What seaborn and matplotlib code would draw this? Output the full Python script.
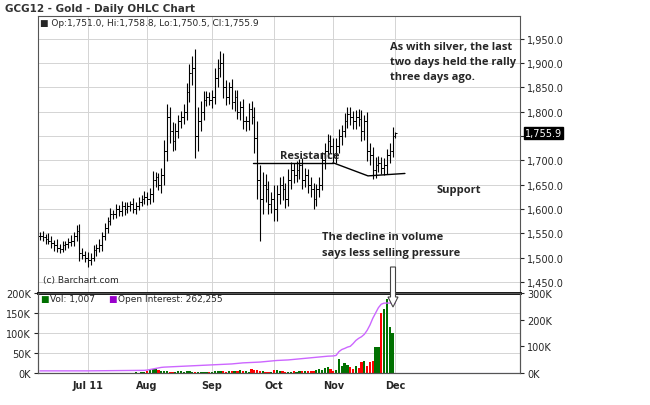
import numpy as np, pandas as pd, matplotlib
matplotlib.use("Agg")
import matplotlib.pyplot as plt
import seaborn as sns

dates = pd.bdate_range("2011-06-08", "2011-12-01")
closes = [1545,1542,1538,1535,1530,1525,1520,1518,1525,1528,1532,1535,1545,1555,1510,1505,1500,
 1495,1500,1515,1520,1525,1545,1560,1575,1590,1590,1600,1595,1605,1600,1605,1610,1600,1605,1615,1620,1625,
 1620,1630,1660,1665,1650,1670,1720,1790,1760,1740,1760,1780,1790,1800,1840,1880,1890,1750,1780,1800,1825,1830,1825,
 1830,1870,1890,1900,1850,1830,1850,1820,1830,1800,1810,1780,1780,1805,1790,1745,1660,1620,1650,1640,1610,1620,
 1600,1630,1650,1640,1620,1660,1680,1670,1680,1690,1660,1670,1650,1640,1620,1640,1650,1700,1720,1740,1730,
 1710,1730,1750,1760,1780,1795,1790,1780,1790,1785,1760,1780,1720,1710,1680,1690,1695,1685,1690,1710,1720,1750,
 1756]
hi_ext = [8,10,6,12,9,7,14,8,10,6,9,11,7,12,15,10,8, 12,9,10,7,14,8,11,9,12,7,10,8,11,9,10,7,12,9,10,8,11,
 10,14,18,12,9,15,22,25,20,18,16,14,12,15,20,18,25,40,30,22,18,12,10,
 15,20,18,25,20,15,12,18,14,15,12,16,12,14,18,20,35,30,25,22,18,15,
 30,20,15,18,14,22,16,14,18,12,15,14,12,16,14,12,15,18,16,14,12,
 15,16,14,12,18,14,15,12,14,16,18,14,20,15,18,16,14,12,15,14,16,18, 3]
lo_ext = [9,7,11,8,10,12,8,9,7,10,8,9,12,10,18,9,10, 15,10,8,11,9,12,8,10,9,11,8,10,9,12,8,10,9,11,8,10,9,
 12,10,15,14,12,18,20,22,25,20,18,15,14,16,18,20,25,45,30,20,18,14,12,
 18,15,20,18,22,16,14,15,18,14,16,15,20,18,16,30,40,85,30,25,20,18,
 25,25,20,22,18,15,20,16,14,18,20,15,18,16,20,14,15,12,18,16,15,
 14,16,15,18,12,14,18,16,15,14,20,18,22,20,18,16,15,14,16,18,15,14, 5]
volume = [500,300,400,600,300,500,400,300,500,700,400,300,600,500,800,400,600,
 700,500,800,600,900,700,500,1000,800,600,1200,900,700,1000,800,1200,900,1500,1100,1300,1500,
 6000,8000,10000,9000,7000,5000,6000,4000,2000,3000,2500,6000,5000,3000,4000,5000,3000,2000,3000,2500,2000,3000,2500,
 2500,4000,6000,5000,4000,3500,4000,5000,6000,4000,7000,5000,4000,3000,9000,8000,7000,5000,4000,3000,2500,3000,
 8000,7000,5000,4000,3000,3500,3000,4000,3000,6000,5000,4000,5000,6000,5000,8000,10000,7000,13000,16000,10000,
 6000,8000,35000,18000,24000,19000,15000,10000,17000,12000,28000,30000,18000,28000,30000,64000,64000,150000,160000,185000,115000,100000,
 1007]
oi = [8000]*17 + [8000,8100,8200,8300,8400,8500,8600,8700,8800,8900,9000,9100,9200,9300,9400,9500,9600,9700,9800,9900,10000] + \
 [11000,13000,15000,17000,19000,21000,22000,22500,23000,23500,24000,24500,25000,25500,26000,26500,27000,27500,28000,28500,29000,29500,30000] + \
 [30500,31000,31500,32000,32500,33000,33500,34000,35000,36000,37000,38000,38500,39000,39500,40000,40500,41000,42000,43000,44000,45000] + \
 [46000,47000,47500,48000,48500,49000,50000,51000,52000,53000,54000,55000,56000,57000,58000,59000,60000,61000,62000,63000,63500] + \
 [64000,66000,80000,88000,92000,97000,100000,110000,122000,130000,136000,145000,160000,180000,205000,225000,245000,258000,262000,262255,262255,262255] + [262255]
opens = [closes[0]] + closes[:-1]

n = len(dates)
x = np.arange(n)
df = pd.DataFrame({"x": x, "open": opens, "close": closes, "volume": volume, "oi": oi})
df["high"] = np.maximum(df.open, df.close) + np.array(hi_ext)
df["low"] = np.minimum(df.open, df.close) - np.array(lo_ext)

sns.set_style("white")
plt.rcParams["font.family"] = ["DejaVu Sans"]
fig = plt.figure(figsize=(6.5, 4.06), dpi=100)
ax = fig.add_axes([38/650, 1-294/406, 482/650, 277/406])
axv = fig.add_axes([38/650, 1-374/406, 482/650, 80/406])
xl = (-0.7, 170.2)
months = ["2011-07-01","2011-08-01","2011-09-01","2011-10-03","2011-11-01","2011-12-01"]
ticks = [dates.get_indexer([pd.Timestamp(m)])[0] for m in months]
labels = ["Jul 11","Aug","Sep","Oct","Nov","Dec"]
gridc = "#d4d4d4"

ax.vlines(df.x, df.low, df.high, color="black", lw=0.8)
ax.hlines(df.open, df.x-0.6, df.x, color="black", lw=0.7)
ax.hlines(df.close, df.x, df.x+0.6, color="black", lw=0.7)
ax.set_xlim(*xl); ax.set_ylim(1427, 1997)
ax.yaxis.tick_right()
yt = np.arange(1450, 1951, 50)
ax.set_yticks(yt)
ax.set_yticklabels(["" if v == 1750 else f"{v:,.1f}" for v in yt], fontsize=7)
ax.set_xticks(ticks); ax.set_xticklabels([])
ax.grid(True, color=gridc, lw=0.7)
ax.tick_params(length=3, pad=2, right=True)
ax.axhspan(0.955, 1, transform=ax.transAxes, color="#e6e6fa", zorder=0)
ax.text(0.005, 0.978, "■ Op:1,751.0, Hi:1,758.8, Lo:1,750.5, Cl:1,755.9", transform=ax.transAxes, fontsize=6.5, va="center")
ax.text(0.01, 0.04, "(c) Barchart.com", transform=ax.transAxes, fontsize=6.5)
ax.text(1.01, 1755.9, "1,755.9", transform=ax.get_yaxis_transform(), fontsize=7, color="white",
        va="center", bbox=dict(boxstyle="square,pad=0.1", fc="black", ec="black"))
ax.plot([75.5, 103.9], [1695, 1695], color="black", lw=1)
ax.plot([103.9, 116.3, 129.4], [1695, 1668, 1673], color="black", lw=1)
tf = dict(fontsize=8, fontweight="bold", family=["Open Sans"])
ax.text(85, 1705, "Resistance", **tf)
ax.text(140.5, 1635, "Support", **tf)
ax.text(124, 1945, "As with silver, the last\ntwo days held the rally\nthree days ago.", va="top", linespacing=1.5, **tf)
ax.text(100, 1555, "The decline in volume\nsays less selling pressure", va="top", linespacing=1.6, **tf)
fig.text(5/650, 1-9/406, "GCG12 - Gold - Daily OHLC Chart", fontsize=7.5, fontweight="bold", va="center", color="#333333")

colors = ["#007000" if c >= o else "#ff0000" for o, c in zip(df.open, df.close)]
axv.bar(df.x, df.volume, width=0.8, color=colors, linewidth=0)
axv.set_xlim(*xl); axv.set_ylim(0, 200000)
axv.set_yticks([0, 50000, 100000, 150000, 200000])
axv.set_yticklabels(["0K","50K","100K","150K","200K"], fontsize=7)
axv.set_xticks(ticks); axv.set_xticklabels(labels, fontsize=7, fontweight="bold")
axv.grid(True, color=gridc, lw=0.7)
axv.tick_params(length=3, pad=2)
axv.axhspan(0.87, 1, transform=axv.transAxes, color="#e6e6fa", zorder=0)
axv.text(0.005, 0.93, "■", color="#007000", transform=axv.transAxes, fontsize=6.5, va="center")
axv.text(0.025, 0.93, "Vol: 1,007", transform=axv.transAxes, fontsize=6.5, va="center")
axv.text(0.145, 0.93, "■", color="#9900cc", transform=axv.transAxes, fontsize=6.5, va="center")
axv.text(0.165, 0.93, "Open Interest: 262,255", transform=axv.transAxes, fontsize=6.5, va="center")
ax2 = axv.twinx()
sns.lineplot(data=df, x="x", y="oi", ax=ax2, color="#cc66ff", lw=1)
ax2.set_ylim(0, 300000); ax2.set_xlim(*xl)
ax2.set_yticks([0, 100000, 200000, 300000])
ax2.set_yticklabels(["0K","100K","200K","300K"], fontsize=7)
ax2.set_ylabel(""); ax2.set_xlabel(""); axv.set_xlabel(""); ax2.tick_params(length=3, pad=2)
for a in (ax, axv, ax2):
    for s in a.spines.values(): s.set_color("#555555"); s.set_linewidth(0.8)
axv.spines["top"].set_linewidth(2); axv.spines["top"].set_color("black")
fig.patches.append(matplotlib.patches.FancyArrow(393/650, 1-268/406, 0, -30/406, width=5/650, head_width=10/650,
    head_length=10/406, fc="white", ec="#444444", lw=0.8, transform=fig.transFigure, figure=fig, zorder=10))
fig.savefig("out.png", dpi=100, facecolor="white")
